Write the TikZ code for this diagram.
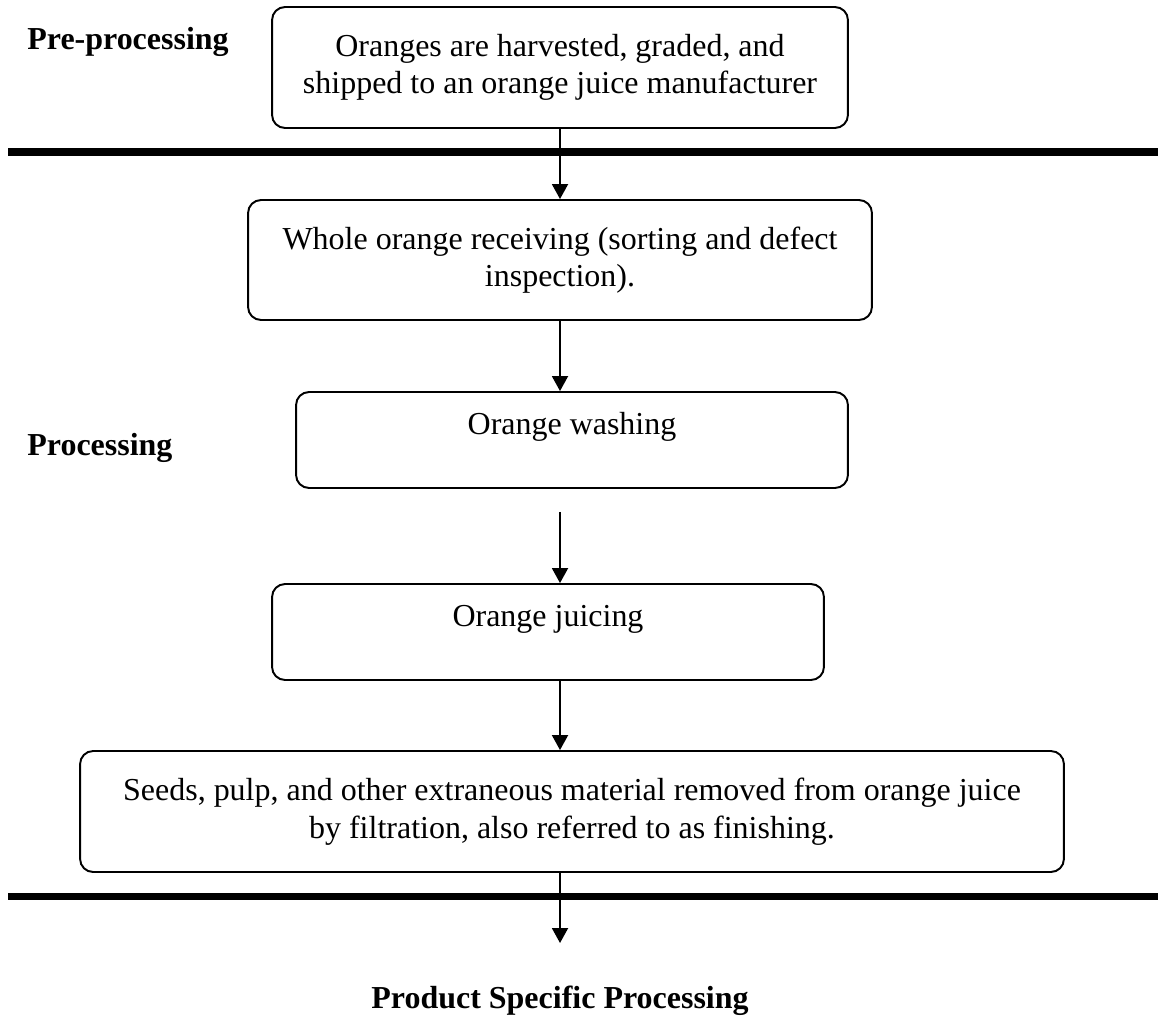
\documentclass[tikz,border=0pt]{standalone}
\usepackage{fontspec}
\setmainfont{Liberation Serif}
\usetikzlibrary{arrows.meta}

\begin{document}
\begin{tikzpicture}[x=0.02cm, y=-0.02cm,
    font=\fontsize{18.2}{21.3}\selectfont,
    box/.style={draw, line width=1.1pt, rounded corners=0.26cm, align=center, inner sep=0pt},
    flow/.style={line width=1.1pt, -{Triangle[width=0.32cm,length=0.3cm]}},
    bar/.style={line width=4pt},
    phase/.style={inner sep=0pt, font=\fontsize{18.2}{21.3}\selectfont\bfseries}]
      \useasboundingbox (0,0) rectangle (1158,1017);
      \node[phase, anchor=base west] (pre)  at (27,50)    {Pre-processing};
      \node[phase, anchor=base west] (proc) at (27,455)   {Processing};
      \node[phase, anchor=base]      (post) at (560,1008) {Product Specific Processing};
      \node[box, minimum width=11.52cm, minimum height=2.42cm] (b1) at (560,67.5)
           {Oranges are harvested, graded, and\\shipped to an orange juice manufacturer};
      \node[box, minimum width=12.48cm, minimum height=2.4cm]  (b2) at (560,260)
           {Whole orange receiving (sorting and defect\\inspection).};
      \node[box, minimum width=11.04cm, minimum height=1.92cm,
            text height=12pt, text depth=18pt]                 (b3) at (572,440) {Orange washing};
      \node[box, minimum width=11.04cm, minimum height=1.92cm,
            text height=12pt, text depth=18pt]                 (b4) at (548,632) {Orange juicing};
      \node[box, minimum width=19.68cm, minimum height=2.42cm] (b5) at (572,811.5)
           {Seeds, pulp, and other extraneous material removed from orange juice\\by filtration, also referred to as finishing.};
      \coordinate (tip) at (560,943);
      \draw[bar]  (8,152) -- (1158,152);
      \draw[bar]  (8,896) -- (1158,896);
      \draw[flow] (b1.south) -- (b2.north);
      \draw[flow] (b2.south) -- (b2.south |- b3.north);
      \draw[flow, shorten <=0.46cm] (b2.south |- b3.south) -- (b2.south |- b4.north);
      \draw[flow] (b2.south |- b4.south) -- (b2.south |- b5.north);
      \draw[flow] (b2.south |- b5.south) -- (tip);
\end{tikzpicture}
\end{document}
